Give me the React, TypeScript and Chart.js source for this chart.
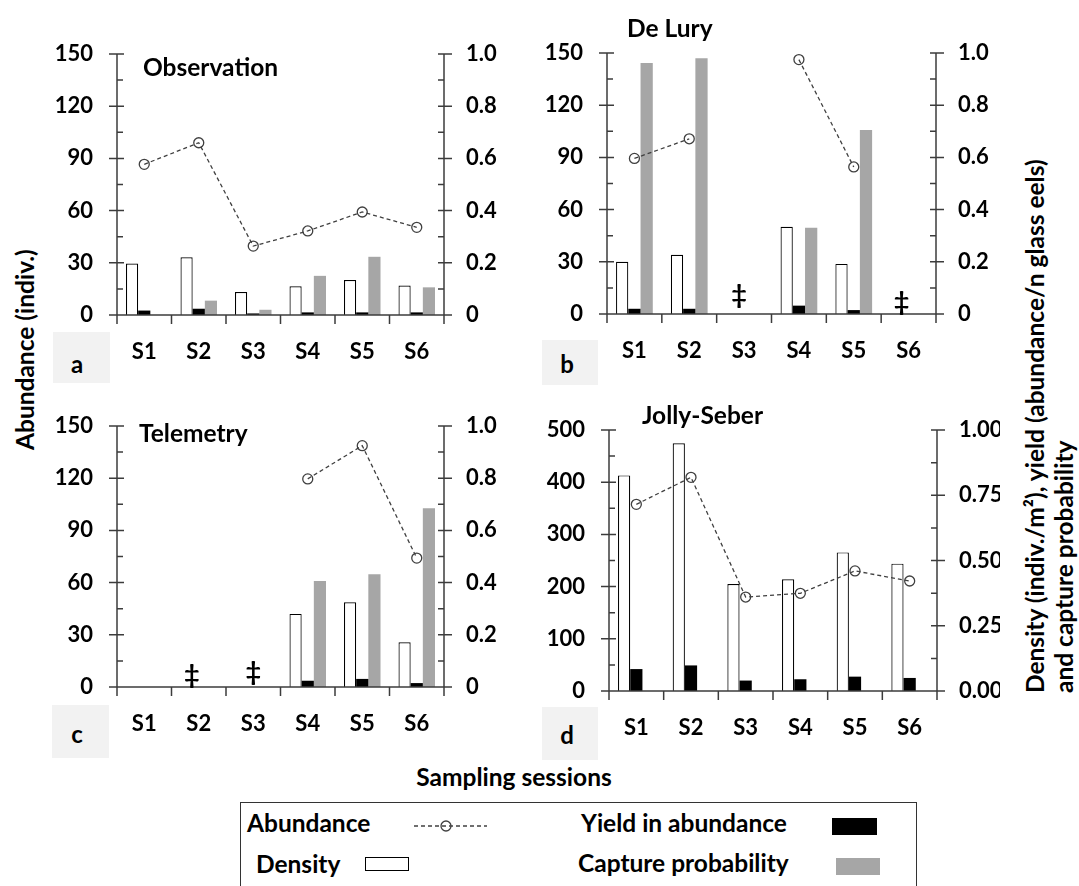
import React, { useEffect, useRef } from 'react';
import { Chart, registerables } from 'chart.js';

Chart.register(...registerables);

const FONT = "Lato, 'DejaVu Sans', sans-serif";
const TXT = 24.5;

// ---------- data ----------
const sessions = ['S1', 'S2', 'S3', 'S4', 'S5', 'S6'];

// (a) Observation
const obsAbundance = [86.6, 99.0, 39.6, 48.3, 59.2, 50.4];
const obsDensity = [0.197, 0.221, 0.088, 0.11, 0.134, 0.113];
const obsYield = [0.017, 0.024, 0.006, 0.01, 0.01, 0.01];
const obsCapture = [0, 0.055, 0.02, 0.15, 0.223, 0.106];

// (b) De Lury
const deluryAbundance = [89.4, 100.7, null, 146.2, 84.5, null];
const deluryDensity = [0.2, 0.227, null, 0.334, 0.192, null];
const deluryYield = [0.02, 0.02, null, 0.032, 0.015, null];
const deluryCapture = [0.962, 0.98, null, 0.33, 0.705, null];

// (c) Telemetry
const telAbundance = [null, null, null, 119.6, 138.7, 74.1];
const telDensity = [null, null, null, 0.28, 0.325, 0.171];
const telYield = [null, null, null, 0.024, 0.031, 0.015];
const telCapture = [null, null, null, 0.406, 0.432, 0.685];

// (d) Jolly-Seber
const jsAbundance = [357.6, 409.3, 180.0, 187.2, 230.0, 210.7];
const jsDensity = [0.826, 0.949, 0.41, 0.428, 0.531, 0.488];
const jsYield = [0.084, 0.098, 0.04, 0.045, 0.055, 0.05];
const jsCapture = [null, null, null, null, null, null];

// axis ranges
const leftMaxABC = 150;
const leftStepABC = 30;
const leftMaxD = 500;
const leftStepD = 100;
const rightStepABC = 0.2;
const rightStepD = 0.25;

// sessions without estimate (‡)
const deluryMissing = [2, 5];
const telMissing = [1, 2];

// ---------- layout ----------
type PanelCfg = {
  key: string;
  abundance: (number | null)[];
  density: (number | null)[];
  yieldv: (number | null)[];
  capture: (number | null)[];
  leftMax: number;
  leftStep: number;
  rightStep: number;
  decimals: number;
  markers: { i: number; dx: number; dy: number }[];
  cx: number; cy: number; cw: number; ch: number;
  L: number; R: number; T: number; B: number;
};

const panels: PanelCfg[] = [
  {
    key: 'a', abundance: obsAbundance, density: obsDensity, yieldv: obsYield, capture: obsCapture,
    leftMax: leftMaxABC, leftStep: leftStepABC, rightStep: rightStepABC, decimals: 1, markers: [],
    cx: 40, cy: 30, cw: 470, ch: 345, L: 117, R: 444, T: 54, B: 315,
  },
  {
    key: 'b', abundance: deluryAbundance, density: deluryDensity, yieldv: deluryYield, capture: deluryCapture,
    leftMax: leftMaxABC, leftStep: leftStepABC, rightStep: rightStepABC, decimals: 1,
    markers: [{ i: deluryMissing[0], dx: -5, dy: 19 }, { i: deluryMissing[1], dx: -7, dy: 12 }],
    cx: 530, cy: 30, cw: 470, ch: 345, L: 607, R: 936, T: 53, B: 314,
  },
  {
    key: 'c', abundance: telAbundance, density: telDensity, yieldv: telYield, capture: telCapture,
    leftMax: leftMaxABC, leftStep: leftStepABC, rightStep: rightStepABC, decimals: 1,
    markers: [{ i: telMissing[0], dx: -7, dy: 12 }, { i: telMissing[1], dx: 0, dy: 15 }],
    cx: 40, cy: 400, cw: 470, ch: 345, L: 117, R: 444, T: 426, B: 687,
  },
  {
    key: 'd', abundance: jsAbundance, density: jsDensity, yieldv: jsYield, capture: jsCapture,
    leftMax: leftMaxD, leftStep: leftStepD, rightStep: rightStepD, decimals: 2, markers: [],
    cx: 530, cy: 400, cw: 470, ch: 345, L: 609, R: 937, T: 430, B: 691,
  },
];

const AXIS_COLOR = '#3c3c3c';

const axisPlugin = {
  id: 'customAxes',
  afterDatasetsDraw(chart: any, _args: any, opts: any) {
    const { ctx, chartArea } = chart;
    const { left, right, top, bottom } = chartArea;
    const y = chart.scales.y;
    const y1 = chart.scales.y1;
    const x = chart.scales.x;
    ctx.save();
    ctx.strokeStyle = AXIS_COLOR;
    ctx.lineWidth = 1.5;
    ctx.beginPath();
    ctx.moveTo(left, top);
    ctx.lineTo(left, bottom + 9);
    ctx.moveTo(right, top);
    ctx.lineTo(right, bottom + 9);
    ctx.moveTo(left - 8, bottom);
    ctx.lineTo(right + 8, bottom);
    const lMinor = opts.leftStep / 2;
    const nL = Math.round(y.max / lMinor);
    for (let k = 0; k <= nL; k++) {
      const py = y.getPixelForValue(k * lMinor);
      if (k % 2 === 0) {
        ctx.moveTo(left - 8, py);
        ctx.lineTo(left + 7, py);
      } else {
        ctx.moveTo(left, py);
        ctx.lineTo(left + 6, py);
      }
    }
    const rMinor = opts.rightStep / 2;
    const nR = Math.round(y1.max / rMinor);
    for (let k = 0; k <= nR; k++) {
      const py = y1.getPixelForValue(k * rMinor);
      if (k % 2 === 0) {
        ctx.moveTo(right - 6, py);
        ctx.lineTo(right + 8, py);
      } else {
        ctx.moveTo(right - 6, py);
        ctx.lineTo(right, py);
      }
    }
    const n = chart.data.labels.length;
    for (let i = 0; i <= n; i++) {
      const px = x.getPixelForValue(i - 0.5);
      ctx.moveTo(px, bottom);
      ctx.lineTo(px, bottom + 9);
    }
    ctx.stroke();
    ctx.fillStyle = '#000';
    ctx.font = `bold 27px ${FONT}`;
    ctx.textAlign = 'center';
    ctx.textBaseline = 'middle';
    for (const m of opts.markers) {
      ctx.fillText('\u2021', x.getPixelForValue(m.i) + m.dx, bottom - m.dy);
    }
    ctx.restore();
  },
};

function PanelChart({ cfg }: { cfg: PanelCfg }) {
  const ref = useRef<HTMLCanvasElement>(null);
  useEffect(() => {
    const canvas = ref.current;
    if (!canvas) return;
    const tickFont = { family: FONT, size: 22, weight: 'bold' as const };
    const barCommon = { yAxisID: 'y1', order: 1, categoryPercentage: 0.67, barPercentage: 1 };
    const chart = new Chart(canvas, {
      type: 'bar',
      data: {
        labels: sessions,
        datasets: [
          {
            type: 'line', label: 'Abundance', data: cfg.abundance, yAxisID: 'y', order: 0,
            borderColor: '#404040', borderWidth: 1.3, borderDash: [4, 3],
            pointRadius: 5, pointBorderWidth: 1.3, pointBorderColor: '#404040',
            pointBackgroundColor: 'rgba(0,0,0,0)', fill: false, tension: 0, spanGaps: false,
          } as any,
          { type: 'bar', label: 'Density', data: cfg.density, backgroundColor: '#ffffff', borderColor: '#000', borderWidth: 1.2, ...barCommon } as any,
          { type: 'bar', label: 'Yield in abundance', data: cfg.yieldv, backgroundColor: '#000000', borderWidth: 0, ...barCommon } as any,
          { type: 'bar', label: 'Capture probability', data: cfg.capture, backgroundColor: '#a6a6a6', borderWidth: 0, ...barCommon } as any,
        ],
      },
      options: {
        responsive: false,
        animation: false,
        layout: { padding: { top: cfg.T - cfg.cy, left: 0, right: 0, bottom: 0 } },
        plugins: {
          legend: { display: false },
          tooltip: { enabled: false },
          customAxes: { leftStep: cfg.leftStep, rightStep: cfg.rightStep, markers: cfg.markers },
        } as any,
        scales: {
          x: {
            type: 'category', offset: true,
            grid: { display: false, drawTicks: false }, border: { display: false },
            ticks: { font: tickFont, color: '#000', padding: 24, maxRotation: 0, autoSkip: false },
            afterFit: (s: any) => { s.height = cfg.cy + cfg.ch - cfg.B; s.paddingLeft = 0; s.paddingRight = 0; },
          },
          y: {
            position: 'left', min: 0, max: cfg.leftMax,
            grid: { display: false, drawTicks: false }, border: { display: false },
            ticks: { stepSize: cfg.leftStep, font: tickFont, color: '#000', padding: 24 },
            afterFit: (s: any) => { s.width = cfg.L - cfg.cx; s.paddingTop = 0; s.paddingBottom = 0; },
          },
          y1: {
            position: 'right', min: 0, max: 1,
            grid: { display: false, drawTicks: false }, border: { display: false },
            ticks: {
              stepSize: cfg.rightStep, font: tickFont, color: '#000', padding: 22,
              callback: (v: any) => (Number(v) === 0 && cfg.decimals === 1 ? '0' : Number(v).toFixed(cfg.decimals)),
            },
            afterFit: (s: any) => { s.width = cfg.cx + cfg.cw - cfg.R; s.paddingTop = 0; s.paddingBottom = 0; },
          },
        } as any,
      },
      plugins: [axisPlugin as any],
    });
    return () => chart.destroy();
  }, [cfg]);
  return (
    <canvas
      ref={ref}
      width={cfg.cw}
      height={cfg.ch}
      style={{ position: 'absolute', left: cfg.cx, top: cfg.cy, width: cfg.cw, height: cfg.ch }}
    />
  );
}

function Txt({ x, y, text, size = TXT, center = false }: { x: number; y: number; text: string; size?: number; center?: boolean }) {
  return (
    <div
      style={{
        position: 'absolute', left: x, top: y,
        transform: center ? 'translate(-50%, -50%)' : 'translateY(-50%)',
        whiteSpace: 'nowrap', fontWeight: 700, fontSize: size, lineHeight: 1, color: '#000',
      }}
    >
      {text}
    </div>
  );
}

function Box({ x, y, w, h, letter, lx, ly }: { x: number; y: number; w: number; h: number; letter: string; lx: number; ly: number }) {
  return (
    <>
      <div style={{ position: 'absolute', left: x, top: y, width: w, height: h, background: '#f2f2f2' }} />
      <Txt x={lx} y={ly} text={letter} center size={24} />
    </>
  );
}

function VText({ x, y, text, size = TXT }: { x: number; y: number; text: string; size?: number }) {
  return (
    <div style={{ position: 'absolute', left: x, top: y, width: 0, height: 0 }}>
      <div
        style={{
          position: 'absolute', left: 0, top: 0, transformOrigin: '0 0',
          transform: 'rotate(-90deg) translateY(-50%)',
          whiteSpace: 'nowrap', fontWeight: 700, fontSize: size, lineHeight: 1, color: '#000',
        }}
      >
        {text}
      </div>
    </div>
  );
}

const rightTitle1 = 'Density (indiv./m\u00b2), yield (abundance/n glass eels)';
const rightTitle2 = 'and capture probability';

export default function App() {
  useEffect(() => {
    document.body.style.margin = '0';
  }, []);
  return (
    <div
      style={{
        position: 'absolute', left: 0, top: 0, width: 1079, height: 886,
        overflow: 'hidden', background: '#fff', fontFamily: FONT,
      }}
    >
      {panels.map((p) => (
        <PanelChart key={p.key} cfg={p} />
      ))}

      <Txt x={143} y={67} text="Observation" />
      <Txt x={627} y={28} text="De Lury" />
      <Txt x={139} y={433} text="Telemetry" />
      <Txt x={642} y={415} text="Jolly-Seber" />

      <Box x={53} y={332} w={57} h={51} letter="a" lx={77} ly={364} />
      <Box x={542} y={340} w={56} h={45} letter="b" lx={567} ly={364} />
      <Box x={52} y={705} w={57} h={53} letter="c" lx={77} ly={734} />
      <Box x={542} y={707} w={56} h={53} letter="d" lx={567} ly={735} />

      <VText x={25} y={450} text="Abundance (indiv.)" />
      <VText x={1035} y={693} text={rightTitle1} />
      <VText x={1064} y={693} text={rightTitle2} />

      <Txt x={514} y={777} text="Sampling sessions" center />

      <div
        style={{
          position: 'absolute', left: 240, top: 802, width: 675, height: 120,
          borderTop: '1.5px solid #333', borderLeft: '1.5px solid #333', borderRight: '1.5px solid #333',
        }}
      />
      <Txt x={247} y={823} text="Abundance" />
      <svg style={{ position: 'absolute', left: 410, top: 816 }} width={82} height={20}>
        <line x1={4} y1={10} x2={77} y2={10} stroke="#404040" strokeWidth={1.3} strokeDasharray="4 3" />
        <circle cx={36} cy={10} r={5} fill="none" stroke="#404040" strokeWidth={1.3} />
      </svg>
      <Txt x={581} y={823} text="Yield in abundance" />
      <div style={{ position: 'absolute', left: 832, top: 818, width: 45, height: 17, background: '#000' }} />
      <Txt x={256} y={864} text="Density" />
      <div style={{ position: 'absolute', left: 365, top: 857, width: 42, height: 12, border: '1.5px solid #000', background: '#fff' }} />
      <Txt x={578} y={863} text="Capture probability" />
      <div style={{ position: 'absolute', left: 836, top: 858, width: 44, height: 17, background: '#a6a6a6' }} />
    </div>
  );
}
